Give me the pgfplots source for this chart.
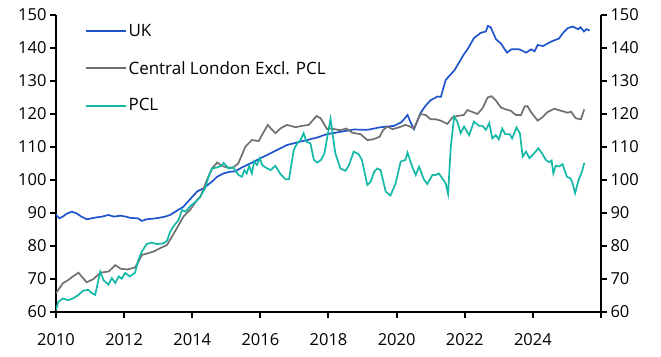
\documentclass[border=0pt]{standalone}
\usepackage{fontspec}
\setmainfont{Open Sans}
\usepackage{pgfplots}
\pgfplotsset{compat=1.18}
\definecolor{ukblue}{RGB}{32,84,204}
\definecolor{clgrey}{RGB}{112,112,112}
\definecolor{pclteal}{RGB}{20,184,166}
\begin{document}
\begin{tikzpicture}
\pgfplotsset{
  common/.style={
    scale only axis, width=545bp, height=297bp,
    xmin=2010, xmax=2026, ymin=60, ymax=150,
    ytick={60,70,...,150},
    tick align=outside, major tick length=6bp,
    every tick/.style={black, line width=2bp},
    axis line style={black, line width=2.4bp},
    tick label style={font=\fontsize{16.5bp}{19bp}\selectfont, black},
    /pgf/number format/assume math mode=true,
    /pgf/number format/1000 sep={},
  }
}
\begin{axis}[common,
  axis x line*=bottom, axis y line*=left,
  xtick={2010,2012,...,2026},
  xticklabels={2010,2012,2014,2016,2018,2020,2022,2024,},
  xticklabel style={yshift=-12bp},
  legend style={draw=none, fill=none, at={(axis description cs:0.052,0.975)}, anchor=north west,
    font=\fontsize{17bp}{20bp}\selectfont, row sep=19bp, inner sep=0pt},
  legend cell align=left,
  legend image code/.code={\draw[#1, line width=2bp] (0bp,0bp) -- (40bp,0bp);},
]
\coordinate (O) at (rel axis cs:0,0);
\addplot[ukblue, line width=1.7bp] coordinates {
(2010.0,89.5) (2010.1,88.4) (2010.2,88.9) (2010.3,89.7) (2010.46,90.4) (2010.6,89.9) (2010.75,88.9) (2010.9,88.1) (2011.05,88.4) (2011.2,88.7) (2011.35,88.9) (2011.54,89.4) (2011.7,88.9) (2011.9,89.2) (2012.05,88.9) (2012.2,88.5) (2012.4,88.4) (2012.52,87.6) (2012.66,88.1) (2012.86,88.3) (2013.06,88.6) (2013.2,88.9) (2013.35,89.4) (2013.55,90.7) (2013.74,91.9) (2013.94,94.2) (2014.14,96.5) (2014.33,97.5) (2014.58,99.5) (2014.73,101) (2014.92,102) (2015.1,102.5) (2015.25,102.6) (2015.46,103.8) (2015.7,105) (2015.95,106.3) (2016.2,107.6) (2016.49,109.1) (2016.78,110.6) (2017.08,111.4) (2017.37,112.1) (2017.67,112.9) (2017.96,113.9) (2018.35,114.6) (2018.74,115.3) (2019.14,115.2) (2019.53,116) (2019.92,116.4) (2020.12,117.4) (2020.2,118.2) (2020.32,119.7) (2020.4,117.7) (2020.51,115.4) (2020.7,120.3) (2020.85,122.5) (2021.0,124.2) (2021.2,125.3) (2021.3,125.2) (2021.44,130.3) (2021.7,133.3) (2021.97,138) (2022.08,139.6) (2022.27,143) (2022.47,144.6) (2022.62,145) (2022.68,146.7) (2022.76,146.3) (2022.92,142.6) (2023.06,141.4) (2023.24,138.6) (2023.37,139.6) (2023.6,139.6) (2023.8,138.6) (2023.95,139.6) (2024.05,139) (2024.14,140.9) (2024.3,140.6) (2024.53,141.9) (2024.77,142.9) (2024.87,144.4) (2025.02,146) (2025.17,146.5) (2025.33,145.7) (2025.4,146.3) (2025.5,145) (2025.57,145.7) (2025.67,145.3)
};
\addlegendentry{UK}
\addplot[clgrey, line width=1.7bp] coordinates {
(2010.0,65.7) (2010.2,68.7) (2010.36,69.7) (2010.5,70.8) (2010.66,71.9) (2010.9,69.0) (2011.1,70) (2011.3,71.9) (2011.55,72.3) (2011.74,74.2) (2011.9,73.1) (2012.1,72.9) (2012.32,73.5) (2012.45,75.8) (2012.52,77.3) (2012.7,77.8) (2012.86,78.3) (2013.05,79.3) (2013.26,80.3) (2013.4,82.8) (2013.55,85.4) (2013.74,88.9) (2013.94,91) (2014.14,93.9) (2014.24,94.9) (2014.43,100) (2014.58,103.5) (2014.73,105.3) (2014.86,104.3) (2015.02,103.8) (2015.2,103.8) (2015.35,105) (2015.56,110.1) (2015.75,112.1) (2015.95,111.8) (2016.1,114.6) (2016.22,116.7) (2016.3,115.7) (2016.44,114.2) (2016.6,115.7) (2016.78,116.7) (2017.03,116) (2017.22,116.4) (2017.42,116.7) (2017.65,119.4) (2017.77,118.7) (2017.96,115.4) (2018.06,115.6) (2018.35,115.1) (2018.53,115.6) (2018.7,114.3) (2018.94,113.9) (2019.14,112.1) (2019.3,112.3) (2019.5,113.1) (2019.6,115.1) (2019.73,116.2) (2019.88,115.4) (2020.08,116) (2020.26,116.7) (2020.39,116.2) (2020.51,115.6) (2020.7,120) (2020.85,119.7) (2021.0,118.4) (2021.15,118.4) (2021.29,118) (2021.49,117) (2021.64,119) (2021.78,119.4) (2021.97,119.7) (2022.08,121.2) (2022.23,120.6) (2022.37,120) (2022.52,121.7) (2022.67,125) (2022.79,125.4) (2022.92,124) (2023.06,122) (2023.2,121.4) (2023.35,121) (2023.5,119.7) (2023.65,119.7) (2023.76,122.3) (2023.84,122.4) (2023.95,120.5) (2024.14,118) (2024.28,119) (2024.43,120.6) (2024.63,121.6) (2024.82,121) (2025.02,120.4) (2025.12,120.7) (2025.26,118.7) (2025.41,118.4) (2025.51,121.4)
};
\addlegendentry{Central London Excl. PCL}
\addplot[pclteal, line width=1.7bp] coordinates {
(2010.0,60.6) (2010.07,63.1) (2010.2,64.1) (2010.35,63.6) (2010.5,64.1) (2010.66,65.2) (2010.8,66.5) (2010.95,66.7) (2011.05,65.7) (2011.15,65.2) (2011.3,72.2) (2011.4,69.6) (2011.54,68.3) (2011.64,70.3) (2011.74,68.8) (2011.84,70.8) (2011.93,70.1) (2012.03,71.8) (2012.17,70.8) (2012.32,71.9) (2012.42,75.8) (2012.52,78.3) (2012.66,80.6) (2012.81,81) (2012.96,80.6) (2013.16,80.8) (2013.26,81.6) (2013.35,84.3) (2013.45,86) (2013.6,87.9) (2013.7,90.9) (2013.8,90.4) (2013.94,92.1) (2014.1,93.4) (2014.2,94.4) (2014.38,97.5) (2014.48,101) (2014.58,103.5) (2014.73,103.8) (2014.86,104.3) (2014.92,105.2) (2015.07,103.5) (2015.2,103.8) (2015.36,101.5) (2015.46,101) (2015.53,103) (2015.6,102) (2015.67,104.3) (2015.75,102) (2015.82,105.6) (2015.9,104.6) (2015.98,106.6) (2016.05,104.6) (2016.15,103.8) (2016.3,103) (2016.44,104.3) (2016.59,101.8) (2016.74,100.2) (2016.84,100.2) (2016.98,109.1) (2017.08,111.1) (2017.18,112.1) (2017.27,114.2) (2017.35,111.6) (2017.47,111.1) (2017.57,106.1) (2017.67,105.3) (2017.78,106.1) (2017.88,108.1) (2018.06,118.5) (2018.2,108.1) (2018.35,103.5) (2018.5,102.8) (2018.6,104.5) (2018.74,108.6) (2018.88,107.9) (2018.98,106.1) (2019.14,98.5) (2019.24,99.5) (2019.34,102.5) (2019.43,103.5) (2019.53,103) (2019.68,96.5) (2019.82,95.3) (2019.97,99) (2020.12,105.6) (2020.26,106.1) (2020.32,108.3) (2020.46,104) (2020.56,101.5) (2020.66,104) (2020.8,100.2) (2020.9,98.8) (2021.05,101.5) (2021.14,101.5) (2021.24,102) (2021.34,100.5) (2021.44,99) (2021.51,95.8) (2021.59,110.1) (2021.69,119.2) (2021.78,117.7) (2021.88,114.2) (2021.98,116.2) (2022.13,113.6) (2022.27,117.7) (2022.42,116.4) (2022.52,116.4) (2022.62,115.2) (2022.72,117.2) (2022.81,112.6) (2022.91,113.6) (2023.0,112.3) (2023.1,115.6) (2023.19,113.9) (2023.32,113.9) (2023.39,112.6) (2023.52,115.9) (2023.62,114.1) (2023.7,107.1) (2023.8,108.6) (2023.9,106.6) (2024.02,107.9) (2024.16,109.6) (2024.28,107.9) (2024.38,106.1) (2024.48,105.4) (2024.55,105.9) (2024.6,102) (2024.67,104.3) (2024.77,104.1) (2024.87,104.8) (2025.0,101) (2025.1,100.5) (2025.16,99.2) (2025.24,96) (2025.34,100) (2025.44,102.5) (2025.51,105.2)
};
\addlegendentry{PCL}
\end{axis}
\begin{axis}[common,
  axis x line=none, axis y line*=right,
]
\end{axis}
\path (O) ++(-56bp,-45bp) rectangle ++(661bp,357bp);
\end{tikzpicture}
\end{document}
